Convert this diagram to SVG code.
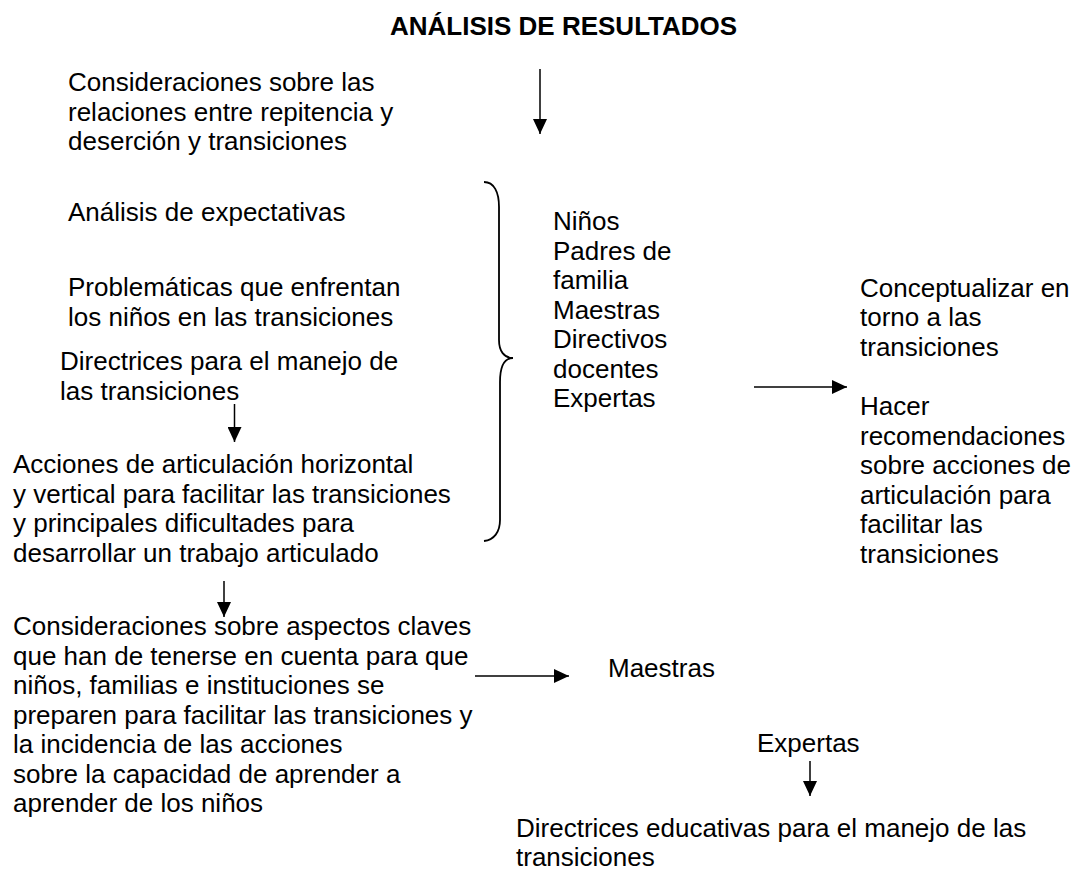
<svg xmlns="http://www.w3.org/2000/svg" width="1072" height="872" viewBox="0 0 1072 872">
<style>
  text { font-family: "Liberation Sans", Arial, sans-serif; font-size: 26px; fill: #000; }
  .title { font-weight: bold; }
  .conn { stroke: #000; stroke-width: 1.5; fill: none; }
  .brace { stroke: #000; stroke-width: 1.8; fill: none; }
</style>
<defs>
  <marker id="ah" markerWidth="16" markerHeight="14" refX="15" refY="7" orient="auto" markerUnits="userSpaceOnUse">
    <path d="M0,0 L15,7 L0,14 Z" fill="#000"/>
  </marker>
</defs>
<rect width="1072" height="872" fill="#fff"/>

<g id="title"><text class="title" x="390" y="35">ANÁLISIS DE RESULTADOS</text></g>

<g id="n-repitencia">
  <text x="68" y="91">Consideraciones sobre las</text>
  <text x="68" y="120.5">relaciones entre repitencia y</text>
  <text x="68" y="150">deserción y transiciones</text>
</g>
<g id="n-expectativas"><text x="68" y="221">Análisis de expectativas</text></g>
<g id="n-problematicas">
  <text x="68" y="296">Problemáticas que enfrentan</text>
  <text x="68" y="325.5">los niños en las transiciones</text>
</g>
<g id="n-directrices">
  <text x="60" y="370">Directrices para el manejo de</text>
  <text x="60" y="399.5">las transiciones</text>
</g>
<g id="n-acciones">
  <text x="13" y="473">Acciones de articulación horizontal</text>
  <text x="13" y="502.5">y vertical para facilitar las transiciones</text>
  <text x="13" y="532">y principales dificultades para</text>
  <text x="13" y="561.5">desarrollar un trabajo articulado</text>
</g>
<g id="n-aspectos">
  <text x="13" y="635">Consideraciones sobre aspectos claves</text>
  <text x="13" y="664.5">que han de tenerse en cuenta para que</text>
  <text x="13" y="694">niños, familias e instituciones se</text>
  <text x="13" y="723.5">preparen para facilitar las transiciones y</text>
  <text x="13" y="753">la incidencia de las acciones</text>
  <text x="13" y="782.5">sobre la capacidad de aprender a</text>
  <text x="13" y="812">aprender de los niños</text>
</g>
<g id="n-actores">
  <text x="553" y="230">Niños</text>
  <text x="553" y="259.5">Padres de</text>
  <text x="553" y="289">familia</text>
  <text x="553" y="318.5">Maestras</text>
  <text x="553" y="348">Directivos</text>
  <text x="553" y="377.5">docentes</text>
  <text x="553" y="407">Expertas</text>
</g>
<g id="n-conceptualizar">
  <text x="860" y="296.5">Conceptualizar en</text>
  <text x="860" y="326">torno a las</text>
  <text x="860" y="355.5">transiciones</text>
</g>
<g id="n-recomendaciones">
  <text x="860" y="415">Hacer</text>
  <text x="860" y="444.5">recomendaciones</text>
  <text x="860" y="474">sobre acciones de</text>
  <text x="860" y="503.5">articulación para</text>
  <text x="860" y="533">facilitar las</text>
  <text x="860" y="562.5">transiciones</text>
</g>
<g id="n-maestras"><text x="608" y="677">Maestras</text></g>
<g id="n-expertas"><text x="757" y="752">Expertas</text></g>
<g id="n-directrices-educativas">
  <text x="516" y="836.5">Directrices educativas para el manejo de las</text>
  <text x="516" y="866">transiciones</text>
</g>

<g id="connectors">
  <line class="conn" x1="540" y1="69" x2="540" y2="134" marker-end="url(#ah)"/>
  <line class="conn" x1="234.5" y1="404" x2="234.5" y2="442" marker-end="url(#ah)"/>
  <line class="conn" x1="224" y1="581" x2="224" y2="617" marker-end="url(#ah)"/>
  <line class="conn" x1="754" y1="387" x2="847" y2="387" marker-end="url(#ah)"/>
  <line class="conn" x1="475" y1="676" x2="569" y2="676" marker-end="url(#ah)"/>
  <line class="conn" x1="810" y1="761" x2="810" y2="796" marker-end="url(#ah)"/>
  <path class="brace" d="M484,182 C494,182 499,192 499,207 L499,340 C499,351 504,358 513,358 C504,358 500,366 500,382 L500,520 C500,532 494,540 484,541"/>
</g>
</svg>
